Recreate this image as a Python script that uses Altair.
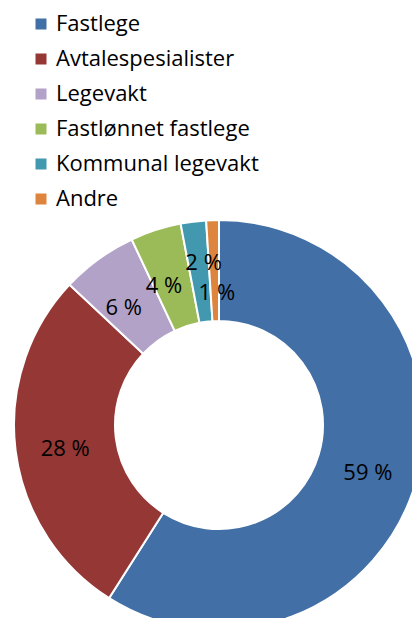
import altair as alt
import pandas as pd

categories = ["Fastlege", "Avtalespesialister", "Legevakt", "Fastlønnet fastlege", "Kommunal legevakt", "Andre"]
values = [59, 28, 6, 4, 2, 1]
labels = ["59 %", "28 %", "6 %", "4 %", "2 %", "1 %"]
colors = ["#416FA6", "#943735", "#B3A2C7", "#9BBB59", "#4198AF", "#DD843E"]

df = pd.DataFrame({"cat": categories, "val": values, "label": labels, "idx": list(range(len(values)))})

FONT = "Open Sans"
cx, cy = 211, 417
theta_scale = alt.Scale(domain=[0, 100])

arcs = alt.Chart(df).mark_arc(
    outerRadius=205, innerRadius=104, stroke="white", strokeWidth=2
).encode(
    theta=alt.Theta("val:Q", stack=True, scale=theta_scale),
    order=alt.Order("idx:Q"),
    color=alt.Color(
        "cat:N",
        scale=alt.Scale(domain=categories, range=colors),
        legend=alt.Legend(
            title=None, orient="none", legendX=22, legendY=5, padding=0,
            symbolType="square", symbolSize=121, symbolStrokeWidth=0,
            labelFont=FONT, labelFontSize=22, labelColor="#000000",
            labelOffset=4, rowPadding=13, labelLimit=400,
        ),
    ),
    x=alt.value(cx), y=alt.value(cy),
)

lab = alt.Chart(df).transform_window(
    cum="sum(val)", sort=[alt.SortField("idx")]
).transform_calculate(mid="datum.cum - datum.val / 2")

def text_layer(cond, radius, dx=0, dy=0):
    return lab.transform_filter(cond).mark_text(
        radius=radius, fontSize=22, font=FONT, color="#000000", dx=dx, dy=dy
    ).encode(
        theta=alt.Theta("mid:Q", stack=False, scale=theta_scale),
        text="label:N",
        x=alt.value(cx), y=alt.value(cy),
    )

t_main = text_layer("datum.idx < 2", 155, 0, 5)
t_6 = text_layer("datum.idx == 2", 152, -6, 6)
t_4 = text_layer("datum.idx == 3", 152, -8, 6)
t_2 = text_layer("datum.idx == 4", 163, 5, 0)
t_1 = text_layer("datum.idx == 5", 132, 2, 0)

chart = alt.layer(arcs, t_main, t_6, t_4, t_2, t_1).properties(
    width=404, height=610, padding=0, autosize=alt.AutoSizeParams(type="none")
).configure_view(stroke=None)

chart.save("out.html", embed_options={"renderer": "svg", "actions": False})
